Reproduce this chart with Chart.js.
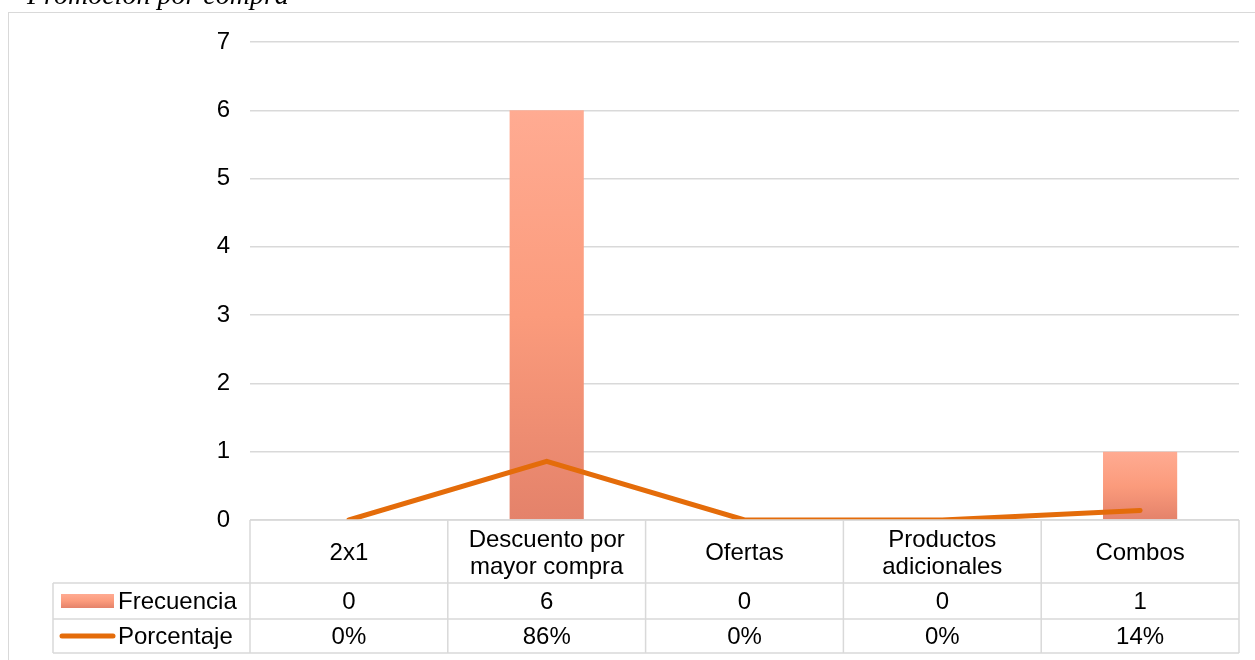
<!DOCTYPE html>
<html>
<head>
<meta charset="utf-8">
<script src="https://cdn.jsdelivr.net/npm/chart.js@4"></script>
<style>
  html, body { margin: 0; padding: 0; background: #ffffff; }
  canvas { display: block; }
</style>
</head>
<body>
<canvas id="chart" width="1255" height="660"></canvas>
<script>
// Categories shown in the data table header
const categories = [['2x1'], ['Descuento por', 'mayor compra'], ['Ofertas'], ['Productos', 'adicionales'], ['Combos']];
// Frequency of each promotion type
const frecuencia = [0, 6, 0, 0, 1];
// Share of answers, in percent
const porcentaje = [0, 86, 0, 0, 14];
// Y-axis range
const yTicks = [0, 1, 2, 3, 4, 5, 6, 7];

const chartTitle = 'Promoción por compra';
const seriesNames = ['Frecuencia', 'Porcentaje'];

const FONT = '"Liberation Sans", Arial, sans-serif';
const FONT_SIZE = 24;
const GRID = '#d9d9d9';
const LINE_COLOR = '#e46c0a';

function barGradient(ctx, top, bottom) {
  const g = ctx.createLinearGradient(0, top, 0, bottom);
  g.addColorStop(0, '#ffab92');
  g.addColorStop(0.5, '#fb9b7c');
  g.addColorStop(1, '#e4826a');
  return g;
}

// Frame, cut-off title and the data table under the plot
const tablePlugin = {
  id: 'dataTable',
  afterDraw(chart) {
    const ctx = chart.ctx;
    const x = chart.scales.x;
    const area = chart.chartArea;
    const n = categories.length;

    ctx.save();
    // outer chart frame
    ctx.strokeStyle = GRID;
    ctx.lineWidth = 1;
    ctx.strokeRect(8.5, 12.5, 1400, 800);

    // title (partly above the page)
    ctx.fillStyle = '#000000';
    ctx.font = 'italic 28px "Liberation Serif", "Times New Roman", serif';
    ctx.textAlign = 'left';
    ctx.textBaseline = 'alphabetic';
    ctx.fillText(chartTitle, 27, 4);

    // column borders
    const bounds = [area.left];
    for (let i = 0; i < n - 1; i++) {
      bounds.push((x.getPixelForValue(i) + x.getPixelForValue(i + 1)) / 2);
    }
    bounds.push(area.right);

    const top = area.bottom;
    const headerBottom = top + 63;
    const row1Bottom = headerBottom + 36;
    const row2Bottom = row1Bottom + 34;
    const legendLeft = 53;

    ctx.strokeStyle = GRID;
    ctx.lineWidth = 1.5;
    ctx.beginPath();
    ctx.moveTo(area.left, top); ctx.lineTo(area.right, top);
    [headerBottom, row1Bottom, row2Bottom].forEach(y => {
      ctx.moveTo(legendLeft, y); ctx.lineTo(area.right, y);
    });
    bounds.forEach(bx => { ctx.moveTo(bx, top); ctx.lineTo(bx, row2Bottom); });
    ctx.moveTo(legendLeft, headerBottom); ctx.lineTo(legendLeft, row2Bottom);
    ctx.stroke();

    // text
    ctx.fillStyle = '#000000';
    ctx.font = FONT_SIZE + 'px ' + FONT;
    ctx.textAlign = 'center';
    ctx.textBaseline = 'middle';
    const lineGap = 27;
    for (let i = 0; i < n; i++) {
      const cx = x.getPixelForValue(i);
      const lines = categories[i];
      const mid = (top + headerBottom) / 2 + 2;
      lines.forEach((t, k) => {
        ctx.fillText(t, cx, mid + (k - (lines.length - 1) / 2) * lineGap);
      });
      ctx.fillText(String(frecuencia[i]), cx, (headerBottom + row1Bottom) / 2 + 1);
      ctx.fillText(porcentaje[i] + '%', cx, (row1Bottom + row2Bottom) / 2 + 1);
    }

    // legend keys
    const r1 = (headerBottom + row1Bottom) / 2;
    const r2 = (row1Bottom + row2Bottom) / 2;
    ctx.fillStyle = barGradient(ctx, r1 - 7, r1 + 7);
    ctx.fillRect(61, r1 - 7, 53, 14);
    ctx.strokeStyle = LINE_COLOR;
    ctx.lineWidth = 5;
    ctx.lineCap = 'round';
    ctx.beginPath();
    ctx.moveTo(62, r2); ctx.lineTo(113, r2);
    ctx.stroke();

    ctx.fillStyle = '#000000';
    ctx.textAlign = 'left';
    ctx.fillText(seriesNames[0], 118, r1 + 1);
    ctx.fillText(seriesNames[1], 118, r2 + 1);
    ctx.restore();
  }
};

new Chart(document.getElementById('chart'), {
  type: 'bar',
  data: {
    labels: categories.map(c => c.join(' ')),
    datasets: [
      {
        type: 'line',
        label: seriesNames[1],
        data: porcentaje.map(p => p / 100),
        borderColor: LINE_COLOR,
        borderWidth: 5,
        borderCapStyle: 'round',
        borderJoinStyle: 'miter',
        pointRadius: 0,
        tension: 0,
        fill: false,
        order: 0
      },
      {
        type: 'bar',
        label: seriesNames[0],
        data: frecuencia,
        backgroundColor(context) {
          const chart = context.chart;
          const y = chart.scales.y;
          if (!y || !chart.chartArea) return '#fb9b7c';
          const v = context.raw || 0;
          const t = y.getPixelForValue(v);
          const b = y.getPixelForValue(0);
          if (b - t < 1) return '#fb9b7c';
          return barGradient(chart.ctx, t, b);
        },
        borderWidth: 0,
        barPercentage: 0.375,
        categoryPercentage: 1,
        order: 1
      }
    ]
  },
  options: {
    responsive: false,
    maintainAspectRatio: false,
    animation: false,
    layout: { padding: { top: 42, right: 16, bottom: 140, left: 0 } },
    plugins: {
      legend: { display: false },
      title: { display: false },
      tooltip: { enabled: false }
    },
    scales: {
      x: {
        display: false,
        offset: true
      },
      y: {
        min: yTicks[0],
        max: yTicks[yTicks.length - 1],
        afterFit(scale) { scale.width = 250; },
        afterBuildTicks(scale) { scale.ticks = yTicks.map(v => ({ value: v })); },
        border: { display: false },
        grid: { color: GRID, lineWidth: 1.5, drawTicks: false },
        ticks: {
          padding: 20,
          color: '#000000',
          font: { family: FONT, size: FONT_SIZE }
        }
      }
    }
  },
  plugins: [tablePlugin]
});
</script>
</body>
</html>
